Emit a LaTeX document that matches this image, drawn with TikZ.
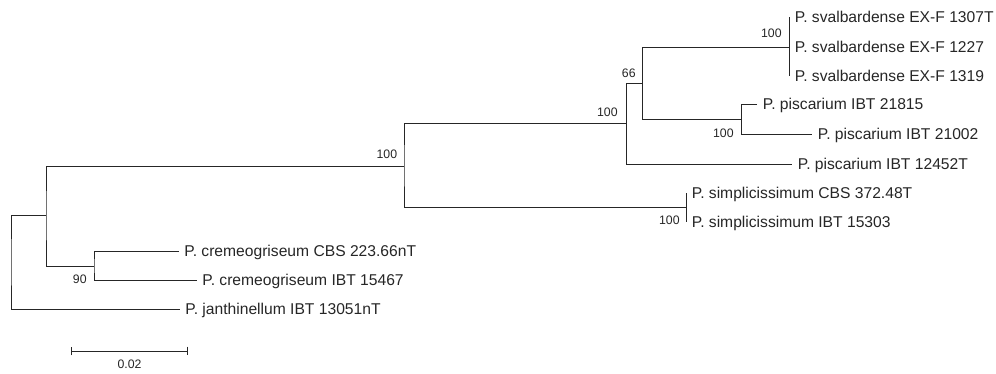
\documentclass[tikz,border=0pt]{standalone}
\usepackage{fontspec}
\setmainfont{Liberation Sans}
\usepackage{xcolor}
\usetikzlibrary{positioning,arrows.meta}
\definecolor{ink}{HTML}{262626}

\begin{document}
\begin{tikzpicture}[x=0.02cm,y=-0.02cm,
    branch/.style={draw=ink,line width=0.55pt},
    leaf/.style={inner sep=0pt,anchor=west,text height=6.4pt,text depth=0pt,text=ink,font=\fontsize{8.9}{10}\selectfont},
    boot/.style={inner sep=0pt,text=ink,font=\fontsize{7}{8}\selectfont}]
  \useasboundingbox (0,0) rectangle (996,373);
  % internal nodes
  \coordinate (rt) at (11,262);
  \coordinate (nA) at (46,215);
  \coordinate (nB) at (404,166);
  \coordinate (nC) at (94,266);
  \coordinate (nD) at (626,123);
  \coordinate (nE) at (642,83);
  \coordinate (nF) at (789,47);
  \coordinate (nG) at (741,119);
  \coordinate (nH) at (686,207.5);
  % leaf tips
  \coordinate (lfSv1) at (789,17);
  \coordinate (lfSv2) at (789,47);
  \coordinate (lfSv3) at (789,76);
  \coordinate (lfPi1) at (757,104);
  \coordinate (lfPi2) at (812,134);
  \coordinate (lfPi3) at (792,164);
  \coordinate (lfSi1) at (686,193);
  \coordinate (lfSi2) at (686,222);
  \coordinate (lfCr1) at (179,251);
  \coordinate (lfCr2) at (197,280);
  \coordinate (lfJa) at (180,309);
  % branches
  \draw[branch] (nA) -| (rt) |- (lfJa);
  \draw[branch] (nB) -| (nA) |- (nC);
  \draw[branch] (lfCr1) -| (nC) |- (lfCr2);
  \draw[branch] (nD) -| (nB) |- (nH);
  \draw[branch] (nE) -| (nD) |- (lfPi3);
  \draw[branch] (nF) -| (nE) |- (nG);
  \draw[branch] (lfPi1) -| (nG) |- (lfPi2);
  \draw[branch] (lfSv1) -- (lfSv3);
  \draw[branch] (lfSi1) -- (lfSi2);
  % taxa
  \node[leaf,right=0.11cm of lfSv1] (txSv1) {P. svalbardense EX-F 1307T};
  \node[leaf,right=0.11cm of lfSv2] (txSv2) {P. svalbardense EX-F 1227};
  \node[leaf,right=0.11cm of lfSv3] (txSv3) {P. svalbardense EX-F 1319};
  \node[leaf,right=0.11cm of lfPi1] (txPi1) {P. piscarium IBT 21815};
  \node[leaf,right=0.11cm of lfPi2] (txPi2) {P. piscarium IBT 21002};
  \node[leaf,right=0.11cm of lfPi3] (txPi3) {P. piscarium IBT 12452T};
  \node[leaf,right=0.11cm of lfSi1] (txSi1) {P. simplicissimum CBS 372.48T};
  \node[leaf,right=0.11cm of lfSi2] (txSi2) {P. simplicissimum IBT 15303};
  \node[leaf,right=0.1cm of lfCr1] (txCr1) {P. cremeogriseum CBS 223.66nT};
  \node[leaf,right=0.1cm of lfCr2] (txCr2) {P. cremeogriseum IBT 15467};
  \node[leaf,right=0.1cm of lfJa] (txJa) {P. janthinellum IBT 13051nT};
  % bootstrap values
  \node[boot,above left=0.15cm and 0.13cm of nB] (bsB) {100};
  \node[boot,above left=0.13cm and 0.16cm of nD] (bsD) {100};
  \node[boot,above left=0.11cm and 0.12cm of nE] (bsE) {66};
  \node[boot,above left=0.19cm and 0.14cm of nF] (bsF) {100};
  \node[boot,below left=0.2cm and 0.14cm of nG] (bsG) {100};
  \node[boot,below left=0.17cm and 0.12cm of nH] (bsH) {100};
  \node[boot,below left=0.17cm and 0.14cm of nC] (bsC) {90};
  % scale bar
  \coordinate (sbL) at (71,351);
  \coordinate (sbR) at (188,351);
  \coordinate (sbM) at (129.5,351);
  \draw[branch,{Bar[width=5pt]}-{Bar[width=5pt]}] (sbL) -- (sbR);
  \node[boot,below=0.18cm of sbM] (sbT) {0.02};
\end{tikzpicture}
\end{document}
